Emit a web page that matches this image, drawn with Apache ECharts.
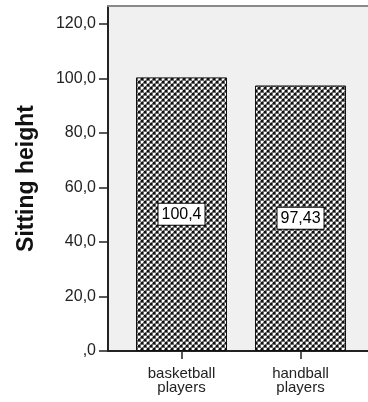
<!DOCTYPE html>
<html>
<head>
<meta charset="utf-8">
<script src="https://cdn.jsdelivr.net/npm/echarts@6/dist/echarts.min.js"></script>
<style>
html,body{margin:0;padding:0;background:#fff;}
#chart{width:368px;height:402px;}
</style>
</head>
<body>
<div id="chart"></div>
<script>
const categories = ['basketball\nplayers', 'handball\nplayers'];
const values = [100.4, 97.43];
const yTicks = [0, 20, 40, 60, 80, 100, 120];
const yAxisTitle = 'Sitting height';

function fmtComma(v) { return String(v).replace('.', ','); }
function fmtTick(v) { return v === 0 ? ',0' : v.toFixed(1).replace('.', ','); }

// crosshatch dot pattern
const pc = document.createElement('canvas');
pc.width = 6; pc.height = 6;
const g = pc.getContext('2d');
g.fillStyle = '#6a6a6a'; g.fillRect(0, 0, 6, 6);
g.fillStyle = '#ffffff'; g.fillRect(0, 0, 2, 2); g.fillRect(3, 3, 2, 2);
g.fillStyle = '#111111'; g.fillRect(3, 0, 2, 2); g.fillRect(0, 3, 2, 2);
g.fillStyle = '#c8c8c8'; g.fillRect(2, 0, 1, 1); g.fillRect(0, 2, 1, 1); g.fillRect(5, 3, 1, 1); g.fillRect(3, 5, 1, 1);

const catPos = categories.map((c, i) => i + 1);
const seriesData = values.map((v, i) => [catPos[i], v]);

const chart = echarts.init(document.getElementById('chart'), null, { renderer: 'canvas' });
const font = "'Liberation Sans', Arial, sans-serif";
const xMin = 0.3824, xMax = 2.567;
chart.setOption({
  animation: false,
  grid: {
    left: 108, top: 6, bottom: 51, right: 0,
    show: true, backgroundColor: '#f0f0f0', borderWidth: 0
  },
  xAxis: [{
    type: 'value', min: xMin, max: xMax,
    splitLine: { show: false },
    axisLine: { show: true, lineStyle: { color: '#222', width: 2 } },
    axisTick: { show: true, length: 8, customValues: catPos, lineStyle: { color: '#222', width: 1.5 } },
    axisLabel: {
      customValues: catPos, margin: 16, color: '#222', fontSize: 15, lineHeight: 14, fontFamily: font,
      formatter: v => categories[Math.round(v) - 1] || ''
    }
  }, {
    type: 'value', min: xMin, max: xMax, position: 'top',
    splitLine: { show: false },
    axisLine: { show: true, onZero: false, lineStyle: { color: '#8a8a8a', width: 2 } },
    axisTick: { show: false }, axisLabel: { show: false }
  }],
  yAxis: {
    type: 'value', min: 0, max: 126.6,
    name: yAxisTitle, nameLocation: 'middle', nameGap: 70,
    nameTextStyle: { fontSize: 23, fontWeight: 'bold', color: '#111', fontFamily: font },
    splitLine: { show: false },
    axisLine: { show: true, lineStyle: { color: '#222', width: 2 } },
    axisTick: { show: true, length: 9, customValues: yTicks, lineStyle: { color: '#222', width: 1.5 } },
    axisLabel: { customValues: yTicks, margin: 12, color: '#222', fontSize: 16, fontFamily: font, formatter: fmtTick }
  },
  series: [{
    type: 'bar',
    xAxisIndex: 0,
    data: seriesData,
    barWidth: 91,
    itemStyle: { color: { image: pc, repeat: 'repeat' }, borderColor: '#111', borderWidth: 1 },
    label: {
      show: true, position: 'inside', formatter: p => fmtComma(p.value[1]),
      color: '#000', fontSize: 16, fontFamily: font, lineHeight: 17,
      backgroundColor: '#fff', borderColor: '#000', borderWidth: 1, padding: [2, 3, 2, 3]
    }
  }]
});
</script>
</body>
</html>
